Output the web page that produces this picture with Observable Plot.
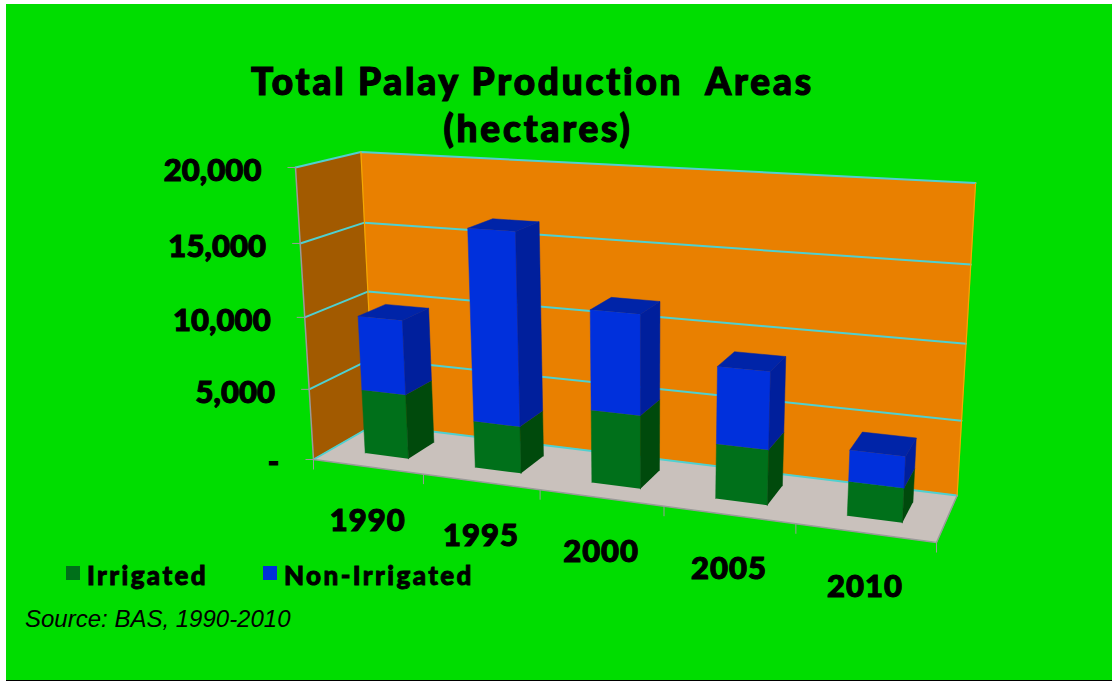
<!DOCTYPE html>
<html><head><meta charset="utf-8">
<script src="https://cdn.jsdelivr.net/npm/d3@7"></script>
<script src="https://cdn.jsdelivr.net/npm/@observablehq/plot@0.6"></script>
<style>
html,body{margin:0;background:#fff;}
#page{position:relative;width:1112px;height:681px;overflow:hidden;}
#bg{position:absolute;left:6px;top:4px;width:1106px;height:676px;background:#00dd00;border-bottom:1px solid #000;}
#chart{position:absolute;left:0;top:0;}
#chart text{stroke:#000;stroke-width:1.1px;}
#chart .yl text{letter-spacing:.1px;}
#chart .xl text{letter-spacing:1px;}
.t{position:absolute;color:#000;font-family:Lato,sans-serif;font-weight:900;white-space:pre;line-height:1;-webkit-text-stroke:1.2px #000;}
.big{font-size:37px;letter-spacing:2.8px;text-align:center;}
.leg{font-size:26px;letter-spacing:2.4px;-webkit-text-stroke:.9px #000;}
.sw{position:absolute;width:14px;height:14px;}
#source{position:absolute;left:25px;top:605px;font:italic 24px "Liberation Sans",sans-serif;color:#000;white-space:pre;}
</style></head><body>
<div id="page">
<div id="bg"></div>
<div id="chart"></div>
<div class="t big" style="left:0;width:1065px;top:62px">Total Palay Production  Areas</div>
<div class="t big" style="left:0;width:1076px;top:109px">(hectares)</div>
<div class="sw" style="left:66px;top:566px;background:#00701a"></div>
<div class="t leg" style="left:87px;top:562px">Irrigated</div>
<div class="sw" style="left:263px;top:566px;background:#0030dc"></div>
<div class="t leg" style="left:284px;top:562px">Non-Irrigated</div>
<div id="source">Source: BAS, 1990-2010</div>
</div>
<script>
const years = ["1990","1995","2000","2005","2010"];
const irrigated = [4550,3250,4950,3650,2230];
const nonIrrigated = [5200,13050,6650,5050,2020];
const yTicks = [0,5000,10000,15000,20000];
const yLabels = ["-","5,000","10,000","15,000","20,000"];
const yMax = 20000;

// Perspective camera: calibrated from the corners of the chart box
const O=[313,459],A=[936,542],C=[374,424],AC=[957,492],B=[295,167],BC=[361,151],ABC=[975,183];
const eqs=[];
for(const k of [0,1]){
  eqs.push([A[k]-AC[k],0,C[k]-AC[k],AC[k]+O[k]-A[k]-C[k]]);
  eqs.push([0,B[k]-BC[k],C[k]-BC[k],BC[k]+O[k]-B[k]-C[k]]);
  eqs.push([A[k]-ABC[k],B[k]-ABC[k],C[k]-ABC[k],ABC[k]+2*O[k]-A[k]-B[k]-C[k]]);
}
function solve3(E){
  const M=[0,1,2].map(i=>[0,1,2,3].map(j=>d3.sum(E,e=>e[i]*e[j])));
  for(let i=0;i<3;i++){
    let m=i;for(let r=i+1;r<3;r++)if(Math.abs(M[r][i])>Math.abs(M[m][i]))m=r;
    [M[i],M[m]]=[M[m],M[i]];
    for(let r=0;r<3;r++)if(r!==i){const f=M[r][i]/M[i][i];for(let c=i;c<4;c++)M[r][c]-=f*M[i][c];}
  }
  return [0,1,2].map(i=>M[i][3]/M[i][i]);
}
const [p,q,r]=solve3(eqs);
const ax=[0,1].map(k=>A[k]*(1+p)-O[k]),bx=[0,1].map(k=>B[k]*(1+q)-O[k]),cx=[0,1].map(k=>C[k]*(1+r)-O[k]);
function proj(u,v,w){
  const d=1+u*p+v*q+w*r;
  return [0,1].map(k=>(O[k]+u*ax[k]+v*bx[k]+w*cx[k])/d);
}
const V=v=>v/yMax;
function poly(list,key,color){return list.map(([u,v,w])=>{const [x,y]=proj(u,v,w);return {x,y,key,color};});}

// Box
const faces=[
  ...poly([[0,0,0],[0,1,0],[0,1,1],[0,0,1]],"side","#a25a00"),
  ...poly([[0,0,1],[0,1,1],[1,1,1],[1,0,1]],"back","#e98000"),
  ...poly([[0,0,0],[0,0,1],[1,0,1],[1,0,0]],"floor","#c9c1bc"),
];
const grid=yTicks.flatMap(t=>poly([[0,V(t),0],[0,V(t),1],[1,V(t),1]],"g"+t,"#4fd0d0"));
const yellow=[...poly([[0,0,1],[0,1,1]],"e1","#f5a800"),...poly([[1,0,1],[1,1,1]],"e2","#f5a800")];
const grey=[...poly([[0,0,0],[0,1,0]],"e3","#9a9a9a"),...poly([[0,0,0],[1,0,0],[1,0,1]],"e4","#9a9a9a")];
const yTickRows=yTicks.map((t,i)=>{const [x,y]=proj(0,V(t),0);return {x,y,label:yLabels[i]};});
const xTickRows=d3.range(years.length+1).map(i=>{const [x,y]=proj(i/years.length,0,0);return {x,y};});
const xLabelRows=years.map((label,i)=>{const [x,y]=proj((i+.5)/years.length,0,0);return {x,y,label};});

// Bars
const frac=.40,w0=.29,w1=.74,uShift=.012;
const bars=[];
years.forEach((yr,i)=>{
  const u0=(i+.5+uShift-frac/2)/years.length,u1=(i+.5+uShift+frac/2)/years.length;
  const a=V(irrigated[i]),b=V(irrigated[i]+nonIrrigated[i]);
  const box=(lo,hi,name,front,side)=>{
    bars.push(...poly([[u0,lo,w0],[u0,hi,w0],[u1,hi,w0],[u1,lo,w0]],yr+name+"f",front));
    bars.push(...poly([[u1,lo,w0],[u1,hi,w0],[u1,hi,w1],[u1,lo,w1]],yr+name+"s",side));
  };
  box(0,a,"i","#00701a","#004a0c");
  box(a,b,"n","#0030dc","#001f9c");
  bars.push(...poly([[u0,b,w0],[u0,b,w1],[u1,b,w1],[u1,b,w0]],yr+"t","#0024a8"));
});

const W=1112,H=681;
const plot=Plot.plot({
  width:W,height:H,margin:0,
  x:{domain:[0,W],range:[0,W],axis:null},
  y:{domain:[0,H],range:[0,H],axis:null},
  color:{type:"identity"},
  style:{background:"transparent",overflow:"visible"},
  marks:[
    Plot.line(faces,{x:"x",y:"y",z:"key",fill:"color",stroke:"color",strokeWidth:.5}),
    Plot.line(grid,{x:"x",y:"y",z:"key",stroke:"color",strokeWidth:2}),
    Plot.line(yellow,{x:"x",y:"y",z:"key",stroke:"color",strokeWidth:1.2}),
    Plot.line(grey,{x:"x",y:"y",z:"key",stroke:"color",strokeWidth:1.5}),
    Plot.link(yTickRows,{x1:"x",y1:"y",x2:d=>d.x-8,y2:"y",stroke:"#9a9a9a",strokeWidth:1}),
    Plot.link(xTickRows,{x1:"x",y1:"y",x2:"x",y2:d=>d.y+10,stroke:"#9a9a9a",strokeWidth:1}),
    Plot.line(bars,{x:"x",y:"y",z:"key",fill:"color",stroke:"color",strokeWidth:.5}),
    Plot.text(yTickRows,{x:"x",y:"y",text:"label",dx:-34,dy:4,textAnchor:"end",fontFamily:"Lato",fontWeight:900,fontSize:31,fill:"#000",className:"yl"}),
    Plot.text(xLabelRows,{x:"x",y:"y",text:"label",dy:54,fontFamily:"Lato",fontWeight:900,fontSize:31,fill:"#000",className:"xl"}),
  ]
});
document.getElementById("chart").append(plot);
</script>
</body></html>
